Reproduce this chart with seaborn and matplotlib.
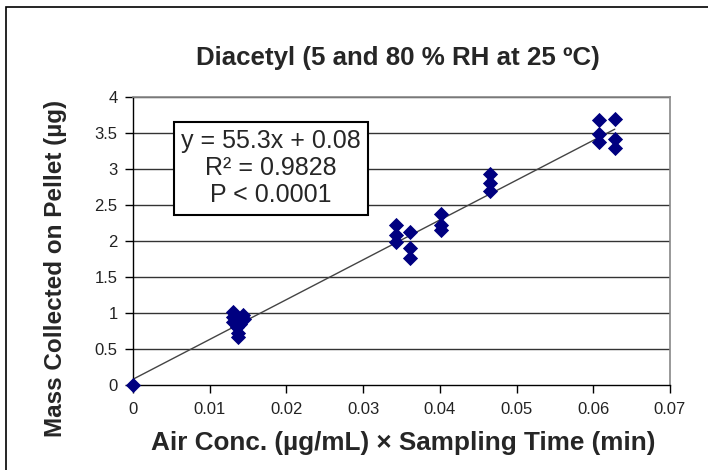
import matplotlib
matplotlib.use("Agg")
import matplotlib.pyplot as plt
import seaborn as sns
import pandas as pd
import numpy as np

# Data
air_conc_time = [0.0,
                 0.0130, 0.0130, 0.0130, 0.0135, 0.0135, 0.0137, 0.0137, 0.0140, 0.0143, 0.0145,
                 0.0343, 0.0343, 0.0343, 0.0361, 0.0361, 0.0361,
                 0.0401, 0.0401, 0.0401, 0.0466, 0.0466, 0.0466,
                 0.0608, 0.0608, 0.0608, 0.0628, 0.0628, 0.0628]
mass_pellet = [0.0,
               1.02, 0.95, 0.87, 0.92, 0.80, 0.72, 0.66, 0.85, 0.97, 0.92,
               2.22, 2.08, 1.99, 2.12, 1.90, 1.77,
               2.38, 2.22, 2.15, 2.93, 2.81, 2.70,
               3.68, 3.49, 3.38, 3.69, 3.42, 3.29]
slope = 55.3
intercept = 0.08
fit_x = [0.0, 0.0628]
x_ticks = [0, 0.01, 0.02, 0.03, 0.04, 0.05, 0.06, 0.07]
x_tick_labels = ["0", "0.01", "0.02", "0.03", "0.04", "0.05", "0.06", "0.07"]
y_ticks = [0, 0.5, 1, 1.5, 2, 2.5, 3, 3.5, 4]
y_tick_labels = ["0", "0.5", "1", "1.5", "2", "2.5", "3", "3.5", "4"]
title = "Diacetyl (5 and 80 % RH at 25 ºC)"
xlabel = "Air Conc. (µg/mL) × Sampling Time (min)"
ylabel = "Mass Collected on Pellet (µg)"
box_text = "y = 55.3x + 0.08\nR² = 0.9828\nP < 0.0001"

sns.set_theme(style="white")
plt.rcParams['font.family'] = ['Liberation Sans', 'DejaVu Sans']

fig = plt.figure(figsize=(7.08, 4.70), dpi=100)
W, H = 708, 470
ax = fig.add_axes([133 / W, 1 - 385 / H, (670 - 133) / W, (385 - 97) / H])

df = pd.DataFrame({"x": air_conc_time, "y": mass_pellet})
fit_df = pd.DataFrame({"x": fit_x, "y": [slope * v + intercept for v in fit_x]})

# gridlines
for yv in y_ticks[1:]:
    ax.axhline(yv, color="#333333", lw=1.0, zorder=0)

sns.lineplot(data=fit_df, x="x", y="y", ax=ax, color="#444444", lw=1.0, zorder=2)
sns.scatterplot(data=df, x="x", y="y", ax=ax, marker="D", s=60, color="#000080",
                edgecolor="#000080", linewidth=0, zorder=3, clip_on=False)

ax.set_xlim(0, 0.07)
ax.set_ylim(0, 4)
ax.set_xticks(x_ticks)
ax.set_xticklabels(x_tick_labels)
ax.set_yticks(y_ticks)
ax.set_yticklabels(y_tick_labels)
ax.tick_params(axis="both", which="both", direction="out", length=6, width=1,
               color="black", labelsize=12, labelcolor="#222222")
ax.tick_params(axis="x", pad=6)
ax.tick_params(axis="y", pad=5)
ax.tick_params(bottom=True, left=True)

for side in ["top", "right"]:
    ax.spines[side].set_color("#888888")
    ax.spines[side].set_linewidth(1.2)
for side in ["left", "bottom"]:
    ax.spines[side].set_color("black")
    ax.spines[side].set_linewidth(1.0)

ax.set_xlabel(xlabel, fontsize=18.8, fontweight="bold")
ax.set_ylabel(ylabel, fontsize=17.5, fontweight="bold")
ax.xaxis.set_label_coords(0.504, -0.201)
ax.xaxis.label.set_va("center")
ax.yaxis.set_label_coords(-0.145, 0.406)
ax.yaxis.label.set_va("center")
fig.text(398 / W, 1 - 58 / H, title, fontsize=18.6, fontweight="bold",
         ha="center", va="center")

ax.text(0.0180, 3.01, box_text, fontsize=18, ha="center", va="center",
        linespacing=1.15,
        bbox=dict(boxstyle="square,pad=0.3", fc="white", ec="black", lw=1.5),
        zorder=5)

# figure border
fig.patches.append(plt.Rectangle((6 / W, -0.01), 1.1, 1 - 7 / H + 0.01,
                                 transform=fig.transFigure, fill=False,
                                 ec="black", lw=1.2))

fig.savefig("out.png", dpi=100)
